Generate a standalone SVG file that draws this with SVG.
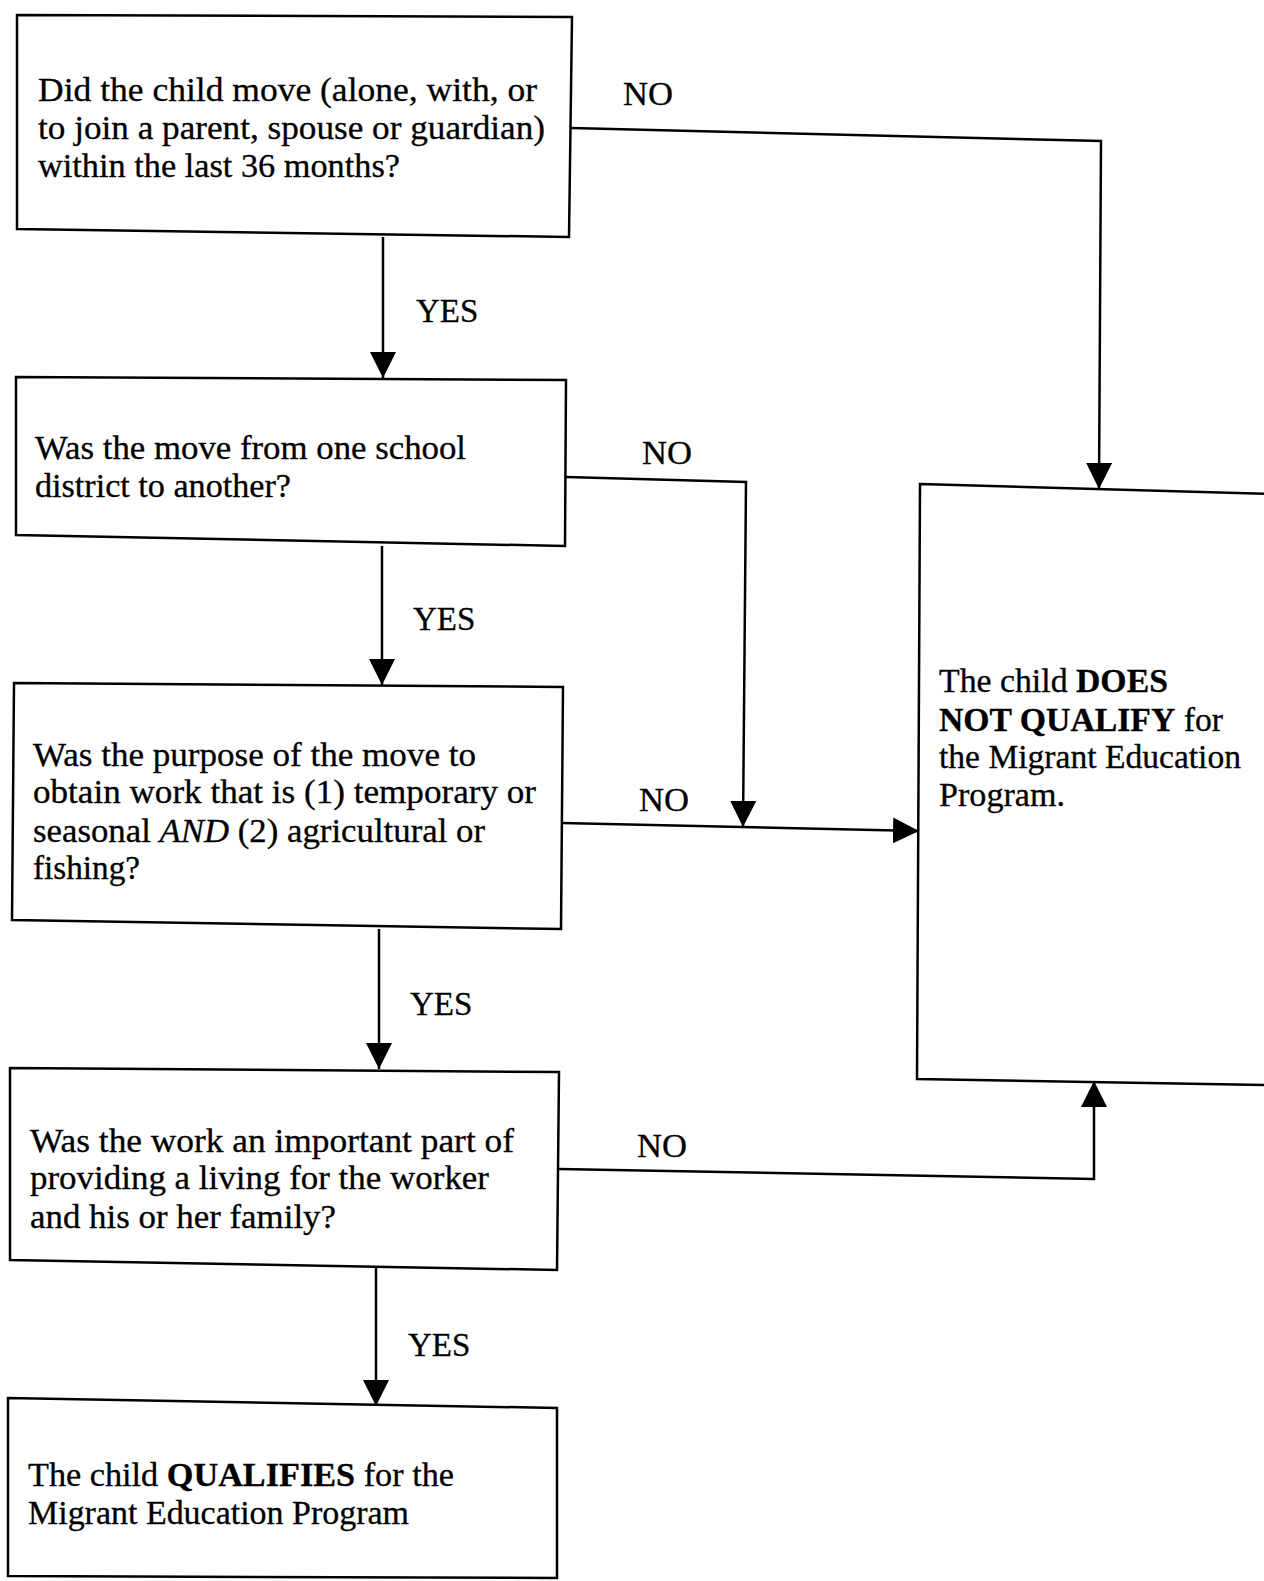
<svg xmlns="http://www.w3.org/2000/svg" width="1264" height="1581" viewBox="0 0 1264 1581">
<style>
.box{fill:#fff;stroke:#000;stroke-width:2.5;stroke-linejoin:miter}
.con{fill:none;stroke:#000;stroke-width:2.5}
.t{font-family:"Liberation Serif","Times New Roman",serif;font-size:33px;fill:#000;stroke:#000;stroke-width:0.3}
.lbl{font-family:"Liberation Serif","Times New Roman",serif;font-size:33px;fill:#000;stroke:#000;stroke-width:0.3}
.b{font-weight:bold}
.i{font-style:italic}
</style>
<defs>
<marker id="ah" markerUnits="userSpaceOnUse" markerWidth="26" markerHeight="26" viewBox="0 0 20 20" refX="20" refY="10" orient="auto">
<path d="M0,0 L20,10 L0,20 Z" fill="#000"/>
</marker>
</defs>
<rect width="1264" height="1581" fill="#fff"/>
<g id="q1">
<polygon class="box" points="17,15 572,17 569,237 17,229"/>
<text class="t" x="38" y="101" textLength="499" lengthAdjust="spacingAndGlyphs">Did the child move (alone, with, or</text>
<text class="t" x="38" y="139" textLength="507" lengthAdjust="spacingAndGlyphs">to join a parent, spouse or guardian)</text>
<text class="t" x="38" y="177" textLength="362" lengthAdjust="spacingAndGlyphs">within the last 36 months?</text>
</g>
<g id="q2">
<polygon class="box" points="16,377 566,380 565,546 16,535"/>
<text class="t" x="35" y="459" textLength="431" lengthAdjust="spacingAndGlyphs">Was the move from one school</text>
<text class="t" x="35" y="497" textLength="256" lengthAdjust="spacingAndGlyphs">district to another?</text>
</g>
<g id="q3">
<polygon class="box" points="14,683 563,687 561,929 12,920"/>
<text class="t" x="33" y="766" textLength="443" lengthAdjust="spacingAndGlyphs">Was the purpose of the move to</text>
<text class="t" x="33" y="803" textLength="503" lengthAdjust="spacingAndGlyphs">obtain work that is (1) temporary or</text>
<text class="t" x="33" y="842" textLength="452" lengthAdjust="spacingAndGlyphs">seasonal <tspan class="i">AND</tspan> (2) agricultural or</text>
<text class="t" x="33" y="879" textLength="107" lengthAdjust="spacingAndGlyphs">fishing?</text>
</g>
<g id="q4">
<polygon class="box" points="10,1068 559,1072 557,1270 10,1260"/>
<text class="t" x="30" y="1152" textLength="484" lengthAdjust="spacingAndGlyphs">Was the work an important part of</text>
<text class="t" x="30" y="1189" textLength="459" lengthAdjust="spacingAndGlyphs">providing a living for the worker</text>
<text class="t" x="30" y="1228" textLength="306" lengthAdjust="spacingAndGlyphs">and his or her family?</text>
</g>
<g id="qualifies">
<polygon class="box" points="8,1398 557,1408 557,1578 8,1576"/>
<text class="t" x="28" y="1486" textLength="426" lengthAdjust="spacingAndGlyphs">The child <tspan class="b">QUALIFIES</tspan> for the</text>
<text class="t" x="28" y="1524" textLength="381" lengthAdjust="spacingAndGlyphs">Migrant Education Program</text>
</g>
<g id="notqualify">
<polygon class="box" points="920,484 1270,494 1270,1085 917,1079"/>
<text class="t" x="939" y="692" textLength="229" lengthAdjust="spacingAndGlyphs">The child <tspan class="b">DOES</tspan></text>
<text class="t" x="939" y="731" textLength="284" lengthAdjust="spacingAndGlyphs"><tspan class="b">NOT QUALIFY</tspan> for</text>
<text class="t" x="939" y="768" textLength="302" lengthAdjust="spacingAndGlyphs">the Migrant Education</text>
<text class="t" x="939" y="806" textLength="126" lengthAdjust="spacingAndGlyphs">Program.</text>
</g>
<g id="connectors">
<polyline class="con" points="571,128 1101,141 1099,489" marker-end="url(#ah)"/>
<line class="con" x1="383" y1="237" x2="383" y2="378" marker-end="url(#ah)"/>
<polyline class="con" points="566,477 746,482 743,827" marker-end="url(#ah)"/>
<line class="con" x1="382" y1="546" x2="382" y2="685" marker-end="url(#ah)"/>
<line class="con" x1="562" y1="823" x2="919" y2="831" marker-end="url(#ah)"/>
<line class="con" x1="379" y1="929" x2="379" y2="1069" marker-end="url(#ah)"/>
<polyline class="con" points="559,1169 1094,1179 1094,1081" marker-end="url(#ah)"/>
<line class="con" x1="376" y1="1268" x2="376" y2="1406" marker-end="url(#ah)"/>
<text class="lbl" x="623" y="105" textLength="50" lengthAdjust="spacingAndGlyphs">NO</text>
<text class="lbl" x="642" y="464" textLength="50" lengthAdjust="spacingAndGlyphs">NO</text>
<text class="lbl" x="639" y="811" textLength="50" lengthAdjust="spacingAndGlyphs">NO</text>
<text class="lbl" x="637" y="1157" textLength="50" lengthAdjust="spacingAndGlyphs">NO</text>
<text class="lbl" x="416" y="322">YES</text>
<text class="lbl" x="413" y="630">YES</text>
<text class="lbl" x="410" y="1015">YES</text>
<text class="lbl" x="408" y="1356">YES</text>
</g>
</svg>
